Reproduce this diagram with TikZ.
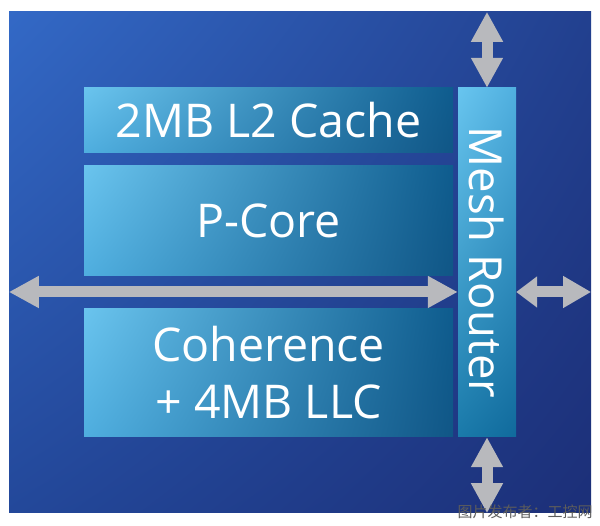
\documentclass[tikz,border=0pt]{standalone}
\usepackage{fontspec}
\setmainfont{Open Sans}
\newfontfamily\cjk{Noto Sans CJK SC}
\usetikzlibrary{arrows.meta,shadings}
\definecolor{arr}{HTML}{B8B9BD}
\definecolor{wm}{HTML}{5C5C5C}
\begin{document}
\begin{tikzpicture}[x=1pt,y=1pt,
  blk/.style={draw=none, inner sep=0pt, text=white,
    upper left={rgb,255:red,106;green,196;blue,238},
    upper right={rgb,255:red,14;green,92;blue,142},
    lower left={rgb,255:red,79;green,174;blue,223},
    lower right={rgb,255:red,16;green,86;blue,134},
    font=\fontsize{46.5}{57}\selectfont, align=center},
  router/.style={draw=none, inner sep=0pt, text=white,
    upper left={rgb,255:red,104;green,197;blue,239},
    upper right={rgb,255:red,80;green,175;blue,223},
    lower left={rgb,255:red,26;green,122;blue,170},
    lower right={rgb,255:red,16;green,106;blue,156}},
  bigarrow/.style={draw=arr, line width=11pt},
  tipA/.tip={Triangle[width=30pt,length=30pt]}
]
\fill[white] (0,0) rectangle (600,526);
\useasboundingbox (0,0) rectangle (600,526);
% background
\node[draw=none, inner sep=0pt, minimum width=582pt, minimum height=501pt,
  upper left={rgb,255:red,51;green,105;blue,198},
  upper right={rgb,255:red,34;green,64;blue,143},
  lower left={rgb,255:red,35;green,72;blue,154},
  lower right={rgb,255:red,28;green,47;blue,120}] (bg) at (300,263.5) {};
% blocks
\node[blk, minimum width=369pt, minimum height=64.5pt] (l2) at (268.5,405.75) {2MB L2 Cache};
\node[blk, minimum width=369pt, minimum height=109.5pt] (core) at (268.5,305.25) {P-Core};
\node[blk, minimum width=369pt, minimum height=128.5pt] (llc) at (268.5,153.25) {Coherence\\+ 4MB LLC};
\node[router, minimum width=58pt, minimum height=349pt] (mr) at (487,263.5) {};
\node[text=white, rotate=-90, font=\fontsize{45.5}{57}\selectfont] (mrt) at (mr.center) {Mesh Router};
% arrows
\coordinate (hl) at (bg.west |- 0,234);
\draw[bigarrow, {tipA}-{tipA}] (bg.north -| mr.north) -- (mr.north);
\draw[bigarrow, {tipA}-{tipA}] (mr.south) -- (bg.south -| mr.south);
\draw[bigarrow, {tipA}-{tipA}] (hl) -- (hl -| mr.west);
\draw[bigarrow, {Triangle[width=30pt,length=21pt]}-{Triangle[width=30pt,length=28pt]}] (hl -| mr.east) -- (hl -| bg.east);
% watermark
\node[text=wm, font=\cjk\fontsize{15}{15}\selectfont, inner sep=0pt] (wmk) at (525,14) {图片发布者：工控网};
\end{tikzpicture}
\end{document}
